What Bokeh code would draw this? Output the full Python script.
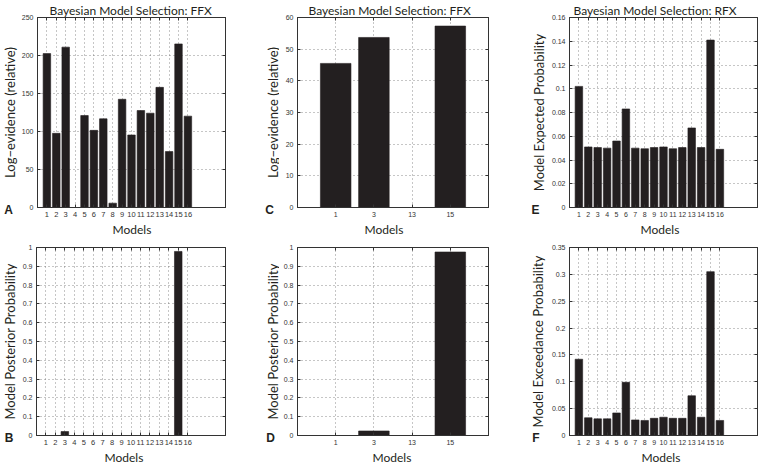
import math
from bokeh.plotting import figure
from bokeh.models import FixedTicker, Range1d, ColumnDataSource, LinearAxis, Title
from bokeh.layouts import column, row
from bokeh.core.properties import value
from bokeh.embed import file_html
from bokeh.resources import INLINE

# ---------------- data ----------------
models = list(range(1, 17))
log_evidence_ffx = [202.5, 97.6, 211.0, 0.0, 121.0, 101.5, 116.7, 5.7,
                    142.4, 95.4, 127.6, 124.1, 158.1, 73.6, 215.2, 120.2]
posterior_ffx = [0.0, 0.0, 0.021, 0.0, 0.0, 0.0, 0.0, 0.0,
                 0.0, 0.0, 0.0, 0.0, 0.0, 0.0, 0.979, 0.0]

subset_positions = [1, 2, 3, 4]
subset_labels = ["1", "3", "13", "15"]
log_evidence_subset = [45.5, 53.7, 0.0, 57.3]
posterior_subset = [0.0, 0.024, 0.0, 0.976]

expected_rfx = [0.102, 0.051, 0.0505, 0.050, 0.056, 0.083, 0.050, 0.0495,
                0.0505, 0.051, 0.0495, 0.0505, 0.067, 0.0505, 0.141, 0.049]
exceedance_rfx = [0.142, 0.033, 0.031, 0.031, 0.042, 0.099, 0.029, 0.028,
                  0.032, 0.034, 0.032, 0.032, 0.074, 0.034, 0.305, 0.028]

yticks_a = [0, 50, 100, 150, 200, 250]
ylabels_a = ["0", "50", "100", "150", "200", "250"]
yticks_prob = [0, 0.1, 0.2, 0.3, 0.4, 0.5, 0.6, 0.7, 0.8, 0.9, 1]
ylabels_prob = ["0", "0.1", "0.2", "0.3", "0.4", "0.5", "0.6", "0.7", "0.8", "0.9", "1"]
yticks_c = [0, 10, 20, 30, 40, 50, 60]
ylabels_c = ["0", "10", "20", "30", "40", "50", "60"]
yticks_e = [0, 0.02, 0.04, 0.06, 0.08, 0.1, 0.12, 0.14, 0.16]
ylabels_e = ["0", "0.02", "0.04", "0.06", "0.08", "0.1", "0.12", "0.14", "0.16"]
yticks_f = [0, 0.05, 0.1, 0.15, 0.2, 0.25, 0.3, 0.35]
ylabels_f = ["0", "0.05", "0.1", "0.15", "0.2", "0.25", "0.3", "0.35"]

TITLE_FFX = "Bayesian Model Selection: FFX"
TITLE_RFX = "Bayesian Model Selection: RFX"
XLABEL = "Models"
YLABEL_A = "Log\u2212evidence (relative)"
YLABEL_B = "Model Posterior Probability"
YLABEL_E = "Model Expected Probability"
YLABEL_F = "Model Exceedance Probability"

LABEL_FONT = "Lato"
TICK_FONT = "Liberation Sans"
BAR = "#231f20"
INK = "#333333"

# ---------------- layout (pixels) ----------------
ROW1 = dict(top=16, fh=191, bottom=32)
ROW2 = dict(top=8, fh=190, bottom=28)
LEFT = 18


def panel(xs, tops, xr, xticks, xlabels, yr, yticks, ylabels, fw, br, rowp,
          title=None, title_dx=0, xlab_dx=0, xtick_size="7px"):
    h = rowp["top"] + rowp["fh"] + rowp["bottom"]
    w = LEFT + fw + br
    p = figure(width=w, height=h, min_border_left=LEFT, min_border_right=br,
               min_border_top=rowp["top"], min_border_bottom=rowp["bottom"],
               x_range=Range1d(*xr), y_range=Range1d(*yr),
               toolbar_location=None, output_backend="svg", title=None)
    p.background_fill_color = "white"
    p.border_fill_color = "white"
    p.outline_line_color = INK
    p.outline_line_width = 1

    src = ColumnDataSource(dict(x=xs, top=tops))
    p.vbar(x="x", top="top", width=0.8, source=src,
           fill_color=BAR, line_color=BAR, line_width=0.6)

    p.xaxis.ticker = FixedTicker(ticks=xticks)
    p.xaxis.major_label_overrides = {t: l for t, l in zip(xticks, xlabels)}
    p.yaxis.ticker = FixedTicker(ticks=yticks)
    p.yaxis.major_label_overrides = {t: l for t, l in zip(yticks, ylabels)}

    for ax in (p.xaxis, p.yaxis):
        ax.major_tick_in = 3
        ax.major_tick_out = 0
        ax.minor_tick_line_color = None
        ax.axis_line_color = INK
        ax.major_tick_line_color = INK
        ax.major_label_text_font = TICK_FONT
        ax.major_label_text_color = INK
    p.yaxis.major_label_text_font_size = "7px"
    p.yaxis.major_label_standoff = 4
    p.xaxis.major_label_text_font_size = xtick_size
    p.xaxis.major_label_standoff = 4

    # inward ticks on the top and right sides of the box
    for side, ticks in (("right", yticks), ("above", xticks)):
        ax = LinearAxis(ticker=FixedTicker(ticks=ticks),
                        major_label_overrides={t: "" for t in ticks},
                        major_label_text_font_size="0px", major_label_standoff=0,
                        major_tick_in=3, major_tick_out=0,
                        minor_tick_line_color=None, axis_line_color=INK,
                        major_tick_line_color=INK)
        p.add_layout(ax, side)

    p.grid.grid_line_color = "#666666"
    p.grid.grid_line_dash = "1 3"
    p.grid.grid_line_alpha = 0.75
    p.grid.grid_line_width = 1

    if title:
        p.title = Title(text=title, align="left", offset=title_dx, standoff=0,
                        text_font=LABEL_FONT, text_font_size="12px",
                        text_font_style="normal", text_color="#231f20")
    p.add_layout(Title(text=XLABEL, align="left", offset=xlab_dx, standoff=1,
                       text_font=LABEL_FONT, text_font_size="12px",
                       text_font_style="normal", text_color="#231f20"), "below")
    return p


def side_strip(w, rowp, ylabel, ylab_x, letter, letter_x):
    """Narrow area left of a panel: rotated y label and the panel letter."""
    h = rowp["top"] + rowp["fh"] + rowp["bottom"]
    s = figure(width=w, height=h, x_range=Range1d(0, w),
               y_range=Range1d(0, rowp["fh"]),
               min_border_left=0, min_border_right=0,
               min_border_top=rowp["top"], min_border_bottom=rowp["bottom"],
               toolbar_location=None, output_backend="svg",
               x_axis_location="below", y_axis_location=None, title=None)
    s.outline_line_color = None
    s.grid.visible = False
    s.background_fill_color = "white"
    s.border_fill_color = "white"
    s.text(x=[ylab_x], y=[rowp["fh"] / 2.0], text=[ylabel], angle=math.pi / 2,
           text_align="center", text_baseline="middle",
           text_font=value(LABEL_FONT), text_font_size=value("13px"),
           text_color="#231f20")
    ax = s.xaxis[0]
    ax.ticker = FixedTicker(ticks=[letter_x])
    ax.major_label_overrides = {letter_x: letter}
    ax.major_label_text_font = "Liberation Sans"
    ax.major_label_text_font_style = "bold"
    ax.major_label_text_font_size = "12px"
    ax.major_label_text_color = "#231f20"
    ax.major_label_standoff = -5
    ax.major_tick_in = 0
    ax.major_tick_out = 0
    ax.major_tick_line_color = None
    ax.minor_tick_line_color = None
    ax.axis_line_color = None
    return s


mlabels = [str(m) for m in models]

# top row
sa = side_strip(18, ROW1, YLABEL_A, 9, "A", 8)
pa = panel(models, log_evidence_ffx, (0, 20), models, mlabels, (0, 250), yticks_a,
           ylabels_a, 189, 37, ROW1, title=TITLE_FFX, title_dx=12, xlab_dx=75,
           xtick_size="7.5px")
sc = side_strip(17, ROW1, YLABEL_A, 10, "C", 7)
pc = panel(subset_positions, log_evidence_subset, (0, 5), subset_positions,
           subset_labels, (0, 60), yticks_c, ylabels_c, 191, 40, ROW1,
           title=TITLE_FFX, title_dx=11, xlab_dx=67)
se = side_strip(20, ROW1, YLABEL_E, 10, "E", 7)
pe = panel(models, expected_rfx, (0, 20), models, mlabels, (0, 0.16), yticks_e,
           ylabels_e, 191, 3, ROW1, title=TITLE_RFX, title_dx=4, xlab_dx=71)

# bottom row
sb = side_strip(18, ROW2, YLABEL_B, 9, "B", 8.5)
pb = panel(models, posterior_ffx, (0, 20), models, mlabels, (0, 1), yticks_prob,
           ylabels_prob, 189, 37, ROW2, xlab_dx=68, xtick_size="7.5px")
sd = side_strip(17, ROW2, YLABEL_B, 10, "D", 8)
pd_ = panel(subset_positions, posterior_subset, (0, 5), subset_positions,
            subset_labels, (0, 1), yticks_prob, ylabels_prob, 191, 40, ROW2,
            xlab_dx=75)
sf = side_strip(20, ROW2, YLABEL_F, 9.5, "F", 7.5)
pf = panel(models, exceedance_rfx, (0, 20), models, mlabels, (0, 0.35), yticks_f,
           ylabels_f, 191, 3, ROW2, xlab_dx=72)

layout = column(row(sa, pa, sc, pc, se, pe), row(sb, pb, sd, pd_, sf, pf))

open("out.html", "w").write(file_html(layout, INLINE))
